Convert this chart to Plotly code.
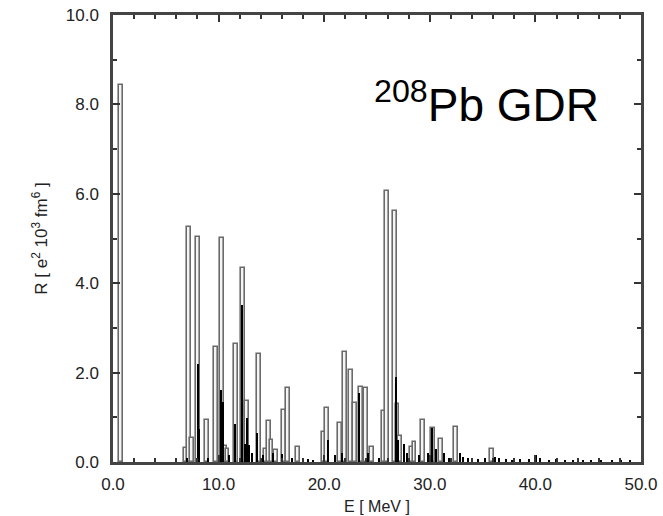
import plotly.graph_objects as go

# Outlined (open) bars: energy [MeV], strength
E_open = [0.73, 6.9, 7.22, 7.48, 8.02, 8.87, 9.75, 10.29, 10.6, 10.85, 11.65, 12.34, 12.66,
          13.86, 14.49, 14.74, 15.0, 15.4, 16.19, 16.54, 17.55, 19.98, 20.3, 21.5, 22.0,
          22.57, 22.92, 23.48, 23.93, 24.56, 25.7, 25.98, 26.67, 26.95, 27.2, 28.3, 28.55,
          29.33, 30.3, 31.06, 32.45, 35.86]
R_open = [8.43, 0.32, 5.25, 0.54, 5.04, 0.94, 2.58, 5.02, 0.35, 0.3, 2.63, 4.35, 1.36,
          2.42, 0.3, 0.92, 0.5, 0.27, 1.16, 1.65, 0.33, 0.68, 1.2, 0.88, 2.47,
          2.06, 1.31, 1.67, 1.65, 0.33, 1.15, 6.06, 5.62, 1.3, 0.58, 0.33, 0.45,
          0.93, 0.75, 0.51, 0.79, 0.28]

# Solid (black) bars
E_solid = [7.0, 8.05, 8.2, 9.0, 10.2, 10.4, 11.0, 11.6, 12.19, 12.5, 12.7, 12.9, 13.2, 13.7,
           14.2, 15.2, 16.0, 17.0, 18.5, 19.0, 20.35, 21.0, 21.75, 23.33, 24.2, 25.2, 26.85,
           27.0, 27.6, 27.9, 29.0, 29.8, 30.27, 30.6, 31.4, 31.8, 32.9, 33.2, 33.6, 34.0,
           34.6, 35.2, 36.2, 36.6, 37.2, 37.8, 38.6, 39.4, 40.1, 40.5, 41.3, 42.0, 42.8,
           43.6, 44.5, 45.3, 46.2, 47.3, 48.1, 49.0]
R_solid = [0.1, 2.2, 0.74, 0.1, 1.61, 1.35, 0.15, 0.84, 3.51, 0.4, 0.98, 0.37, 0.2, 0.65,
           0.15, 0.2, 0.18, 0.08, 0.06, 0.05, 0.5, 0.15, 0.2, 1.54, 0.2, 0.1, 1.91,
           0.5, 0.4, 0.2, 0.15, 0.2, 0.75, 0.3, 0.2, 0.1, 0.2, 0.12, 0.1, 0.08,
           0.06, 0.08, 0.12, 0.08, 0.06, 0.05, 0.06, 0.07, 0.15, 0.08, 0.05, 0.06, 0.04,
           0.05, 0.04, 0.05, 0.04, 0.05, 0.04, 0.04]

x_ticks = [0, 10, 20, 30, 40, 50]
y_ticks = [0, 2, 4, 6, 8, 10]

FONT = "Liberation Sans, Arial, Helvetica"

fig = go.Figure()
fig.add_trace(go.Bar(x=E_open, y=R_open, width=0.36,
                     marker=dict(color="#f4f4f4", line=dict(color="#6a6a6a", width=1.6)),
                     showlegend=False))
fig.add_trace(go.Bar(x=E_solid, y=R_solid, width=0.13,
                     marker=dict(color="black", line=dict(width=0)),
                     showlegend=False))

fig.add_annotation(x=24.5, y=8.05, xref="x", yref="y", xanchor="left", yanchor="middle",
                   text="<sup>208</sup>Pb GDR", showarrow=False,
                   font=dict(family=FONT, size=46, color="black"))

axis_common = dict(showline=True, linecolor="#444", linewidth=2.5, mirror="ticks",
                   ticks="inside", ticklen=7, tickwidth=1.5, tickcolor="#333",
                   showgrid=False, zeroline=False, tickformat=".1f", automargin=False,
                   tickfont=dict(family=FONT, size=17, color="#222"))

fig.update_layout(
    width=663, height=516,
    margin=dict(l=113, r=22, t=15, b=54, autoexpand=False),
    plot_bgcolor="white", paper_bgcolor="white",
    barmode="overlay", bargap=0,
    xaxis=dict(range=[0, 50], tickvals=x_ticks,
               minor=dict(dtick=2, ticks="inside", ticklen=4, tickcolor="#333"),
               title=dict(text="E [ MeV ]", font=dict(family=FONT, size=16, color="#222"),
                          standoff=8),
               ticklabelstandoff=5,
               **axis_common),
    yaxis=dict(range=[0, 10], tickvals=y_ticks,
               minor=dict(dtick=1, ticks="inside", ticklen=4, tickcolor="#333"),
               title=dict(text="R [ e<sup>2</sup> 10<sup>3</sup> fm<sup>6</sup> ]",
                          font=dict(family=FONT, size=17, color="#222"),
                          standoff=14),
               ticklabelstandoff=8,
               **axis_common),
)

fig.write_html("out.html")
